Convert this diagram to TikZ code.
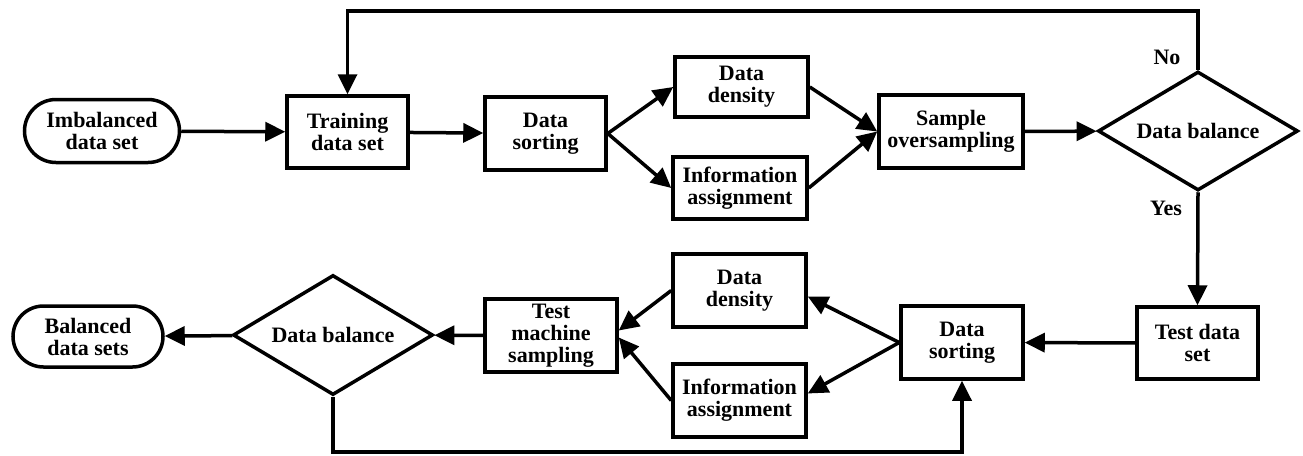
\documentclass[tikz,border=0pt]{standalone}
\usepackage{fontspec}
\setmainfont{Liberation Serif}
\usetikzlibrary{arrows.meta,shapes.geometric,shapes.misc}
\begin{document}
\begin{tikzpicture}[x=1pt,y=-1pt,
  every node/.style={font=\bfseries\fontsize{22}{22}\selectfont, align=center, inner sep=0pt},
  stadium/.style={rounded rectangle, draw, line width=3.5pt},
  procbox/.style={rectangle, draw, line width=3.5pt},
  decide/.style={diamond, draw, line width=3.5pt, aspect=1.68, minimum width=200pt, minimum height=119pt},
  conn/.style={line width=3.5pt},
  arr/.style={conn, -{Triangle[length=20pt,width=19pt]}},
  lbl/.style={font=\bfseries\fontsize{22}{22}\selectfont}]
\useasboundingbox (0,0) rectangle (1303,455);

% upper row: training path
\node[stadium, minimum width=155pt, minimum height=63pt] (imb) at (102,131) {Imbalanced\\data set};
\node[procbox, minimum width=121pt, minimum height=72pt] (tr) at (347.5,132) {Training\\data set};
\node[procbox, minimum width=121pt, minimum height=73pt] (ds1) at (545.5,133.5) {Data\\sorting};
\node[procbox, minimum width=133pt, minimum height=60pt] (dd1) at (741.5,87) {Data\\density};
\node[procbox, minimum width=134pt, minimum height=62pt] (ia1) at (740,188) {Information\\assignment};
\node[procbox, minimum width=144pt, minimum height=73pt] (so) at (951,131.5) {Sample\\oversampling};
\node[decide] (db1) at (1198,131) {Data balance};

% lower row: test path
\node[procbox, minimum width=121pt, minimum height=72pt] (td) at (1197.5,343) {Test data\\set};
\node[procbox, minimum width=122pt, minimum height=73pt] (ds2) at (962,342.5) {Data\\sorting};
\node[procbox, minimum width=133pt, minimum height=73pt] (dd2) at (739.5,290.5) {Data\\density};
\node[procbox, minimum width=133pt, minimum height=73pt] (ia2) at (739.5,400.5) {Information\\assignment};
\node[procbox, minimum width=132pt, minimum height=73pt] (tms) at (551,335.5) {Test\\machine\\sampling};
\node[decide, minimum height=120pt] (db2) at (333,335) {Data balance};
\node[stadium, minimum width=150pt, minimum height=61pt] (bal) at (88,336.5) {Balanced\\data sets};

% branch labels
\node[lbl] (no) at (1167,57) {No};
\node[lbl] (yes) at (1166,208) {Yes};

% heights of the two return loops
\coordinate (topline) at (0,11);
\coordinate (bottomline) at (0,452);

% upper connectors
\draw[arr] (imb) -- (tr);
\draw[arr] (tr) -- (ds1);
\draw[arr] (ds1.east) -- (dd1.west);
\draw[arr] (ds1.east) -- (ia1.west);
\draw[arr] (dd1.east) -- (so.west);
\draw[arr] (ia1.east) -- (so.west);
\draw[arr] (so) -- (db1);
\draw[arr] (db1.north) -- (db1.north |- topline) -| (tr.north);
\draw[arr] (db1.south) -- (td.north);

% lower connectors
\draw[arr] (td) -- (ds2);
\draw[arr] (ds2.west) -- ([yshift=-6pt]dd2.east);
\draw[arr] (ds2.west) -- ([yshift=7pt]ia2.east);
\draw[arr] (dd2.west) -- ([yshift=5pt]tms.east);
\draw[arr] (ia2.west) -- ([yshift=-2pt]tms.east);
\draw[arr] (tms) -- (db2);
\draw[arr] (db2) -- (bal);
\draw[arr] (db2.south) -- (db2.south |- bottomline) -| (ds2.south);
\end{tikzpicture}
\end{document}
